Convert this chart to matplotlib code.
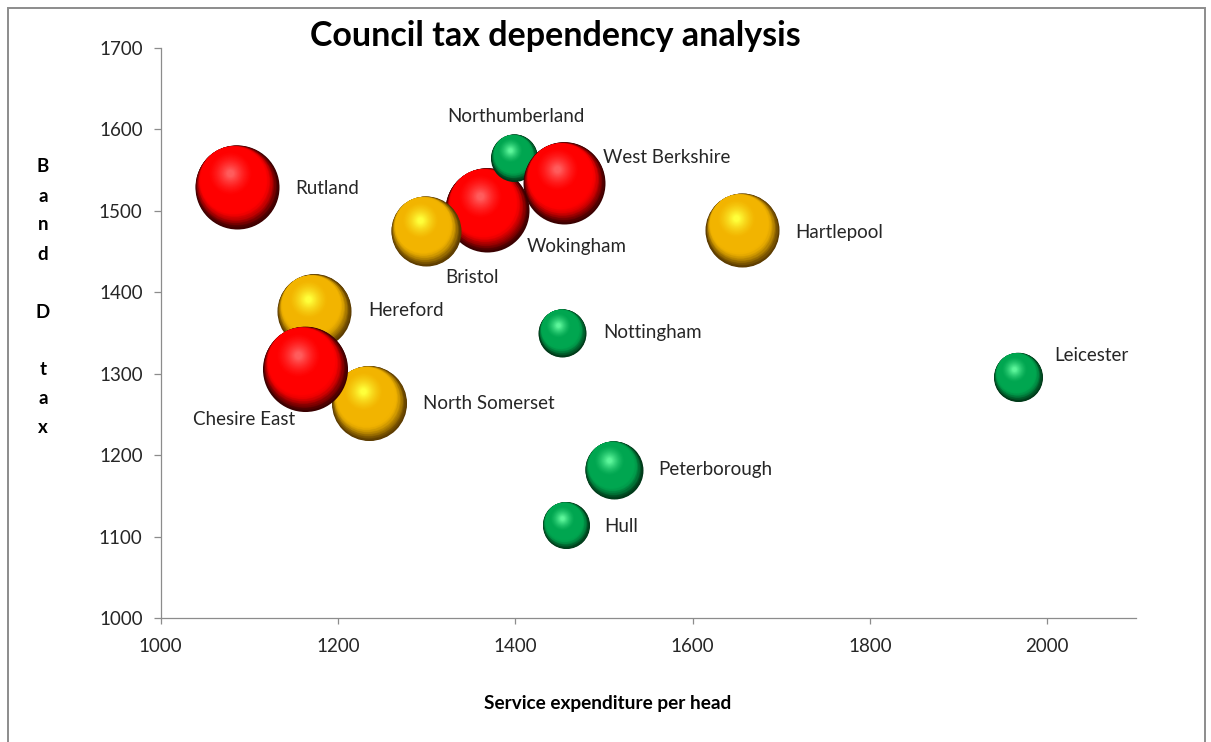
import numpy as np
import matplotlib
matplotlib.use("Agg")
import matplotlib.pyplot as plt
from matplotlib.transforms import ScaledTranslation
from matplotlib.patches import Rectangle

# ---------------- data ----------------
councils = ["Hereford", "North Somerset", "Chesire East", "Rutland", "Wokingham",
            "Bristol", "Northumberland", "West Berkshire", "Hartlepool",
            "Nottingham", "Leicester", "Peterborough", "Hull"]
expenditure = [1173, 1235, 1163, 1086, 1368, 1299, 1399, 1455, 1656,
               1453, 1967, 1511, 1457]
band_d_tax = [1377, 1264, 1306, 1529, 1501, 1475, 1565, 1534, 1476,
              1350, 1296, 1182, 1114]
bubble_size = [54.8, 56.3, 72.3, 70.6, 70.6, 49.0, 22.1, 67.2, 54.8,
               23.0, 24.0, 33.6, 22.1]
dependency_band = ["amber", "amber", "red", "red", "red", "amber", "green",
                   "red", "amber", "green", "green", "green", "green"]

x_ticks = [1000, 1200, 1400, 1600, 1800, 2000]
y_ticks = [1000, 1100, 1200, 1300, 1400, 1500, 1600, 1700]
title = "Council tax dependency analysis"
x_label = "Service expenditure per head"
y_label = "Band D tax"

# ---------------- style / layout ----------------
palette = {
    "red":   {"dark": "#3a0000", "base": "#ff0000", "light": "#ff5c5c"},
    "amber": {"dark": "#5a3a00", "base": "#f2b400", "light": "#ffff3a"},
    "green": {"dark": "#003818", "base": "#00a650", "light": "#5cf59a"},
}
# label offsets in pixels (dx right, dy down) and horizontal alignment
label_layout = {
    "Rutland": (58, 1, "left"),
    "Northumberland": (1.5, -41, "center"),
    "West Berkshire": (39, -26, "left"),
    "Wokingham": (39.5, 37, "left"),
    "Bristol": (19, 46, "left"),
    "Hartlepool": (53, 2, "left"),
    "Hereford": (54, 0, "left"),
    "Chesire East": (-10, 51, "right"),
    "North Somerset": (54, 0, "left"),
    "Nottingham": (41, 0, "left"),
    "Leicester": (36.5, -22, "left"),
    "Peterborough": (44, 0, "left"),
    "Hull": (38, 1, "left"),
}

FONT = ["Lato", "DejaVu Sans"]
plt.rcParams["font.family"] = FONT
DPI = 100
W, H = 1211, 742
fig = plt.figure(figsize=(W / DPI, H / DPI), dpi=DPI, facecolor="white")
ax = fig.add_axes([160.7 / W, 1 - 618.3 / H, (1136 - 160.7) / W, (618.3 - 47.7) / H])

ax.set_xlim(1000, 2100)
ax.set_ylim(1000, 1700)
ax.set_xticks(x_ticks)
ax.set_yticks(y_ticks)
for s in ["top", "right"]:
    ax.spines[s].set_visible(False)
for s in ["left", "bottom"]:
    ax.spines[s].set_color("#8c8c8c")
    ax.spines[s].set_linewidth(0.9)
ax.tick_params(axis="y", direction="out", length=5, width=0.9, color="#8c8c8c",
               labelsize=13.5, labelcolor="#262626", pad=8)
ax.tick_params(axis="x", direction="out", length=4, width=0.9, color="#8c8c8c",
               labelsize=13.5, labelcolor="#262626", pad=10)


def mix(c1, c2, t):
    a = np.array(matplotlib.colors.to_rgb(c1))
    b = np.array(matplotlib.colors.to_rgb(c2))
    return tuple(a + (b - a) * t)


HL_DIR = np.array([-0.17, 0.33])
HL_MAG = np.hypot(*HL_DIR)
HL_UNIT = HL_DIR / HL_MAG


def sphere(x, y, d_px, cols, z):
    n = 60
    R = d_px / 2.0
    for k in range(n):
        t = k / (n - 1)
        f = 1 - 0.92 * t
        mag = min(0.89 * t, HL_MAG) * R
        dx, dy = HL_UNIT * mag
        if t < 0.24:
            u = t / 0.24
            u = u ** 0.8
            u = u * u * (3 - 2 * u)
            c = mix(cols["dark"], cols["base"], u)
        elif t < 0.5:
            c = mix(cols["base"], cols["base"], 0)
        else:
            u = ((t - 0.5) / 0.5) ** 1.5
            c = mix(cols["base"], cols["light"], u)
        tr = ax.transData + ScaledTranslation(dx / DPI, dy / DPI, fig.dpi_scale_trans)
        diam_pt = d_px * f * 72.0 / DPI
        ax.scatter([x], [y], s=diam_pt ** 2, color=[c], linewidths=0,
                   transform=tr, zorder=z, clip_on=False)


for i, name in enumerate(councils):
    d_px = 10.0 * np.sqrt(bubble_size[i])
    sphere(expenditure[i], band_d_tax[i], d_px, palette[dependency_band[i]], 3 + i * 0.01)
    dx, dy, ha = label_layout[name]
    ax.annotate(name, (expenditure[i], band_d_tax[i]),
                xytext=(dx * 72 / DPI, -dy * 72 / DPI), textcoords="offset points",
                ha=ha, va="center", fontsize=13.5, color="#262626", zorder=10)

# title
fig.text(555.5 / W, 1 - 36 / H, title, ha="center", va="center",
         fontsize=24.5, fontweight="bold", color="black")
# x label
fig.text(607.5 / W, 1 - 703 / H, x_label, ha="center", va="center",
         fontsize=13.7, fontweight="bold", color="black")
# y label, stacked letters
for idx, ch in enumerate(y_label):
    if ch.strip():
        fig.text(43 / W, 1 - (167 + 29 * idx) / H, ch, ha="center", va="center",
                 fontsize=13.5, fontweight="bold", color="black")

# outer chart border
fig.add_artist(Rectangle((8 / W, -0.05), (1205 - 8) / W, 1.05 - 8 / H,
                         transform=fig.transFigure, facecolor="none",
                         edgecolor="#8c8c8c", linewidth=1.4, clip_on=False))

fig.savefig("out.png", dpi=DPI, facecolor="white")
